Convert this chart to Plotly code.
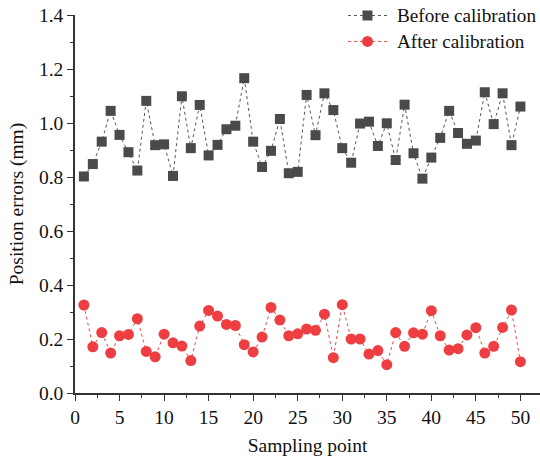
import plotly.graph_objects as go

points = list(range(1, 51))
before = [0.802, 0.848, 0.931, 1.045, 0.956, 0.892, 0.824, 1.082, 0.918, 0.921,
          0.804, 1.099, 0.907, 1.067, 0.880, 0.919, 0.977, 0.990, 1.166, 0.931,
          0.837, 0.897, 1.015, 0.814, 0.819, 1.104, 0.955, 1.110, 1.048, 0.907,
          0.853, 0.998, 1.005, 0.915, 0.999, 0.863, 1.068, 0.888, 0.794, 0.872,
          0.945, 1.045, 0.963, 0.923, 0.935, 1.114, 0.996, 1.110, 0.918, 1.061]
after = [0.326, 0.171, 0.224, 0.148, 0.212, 0.217, 0.275, 0.154, 0.134, 0.218,
         0.186, 0.174, 0.120, 0.248, 0.306, 0.285, 0.254, 0.250, 0.179, 0.152,
         0.207, 0.317, 0.270, 0.212, 0.219, 0.237, 0.232, 0.292, 0.131, 0.327,
         0.200, 0.200, 0.144, 0.157, 0.105, 0.224, 0.173, 0.223, 0.218, 0.305,
         0.212, 0.159, 0.164, 0.215, 0.242, 0.148, 0.173, 0.243, 0.307, 0.116]
series_names = ["Before calibration", "After calibration"]

font = "Liberation Serif, Times New Roman, serif"
fsize = 19.5
gray_line, gray_mark = "#555555", "#4a4a4a"
red_line, red_mark = "#f04848", "#ee3e42"

fig = go.Figure()
fig.add_trace(go.Scatter(
    x=points, y=before, mode="lines+markers", name=series_names[0],
    line=dict(color=gray_line, width=1, dash="dot"),
    marker=dict(symbol="square", size=10, color=gray_mark),
))
fig.add_trace(go.Scatter(
    x=points, y=after, mode="lines+markers", name=series_names[1],
    line=dict(color=red_line, width=1, dash="dot"),
    marker=dict(symbol="circle", size=11, color=red_mark),
))

# Manual legend (paper coordinates)
leg_rows = [(0.9987, gray_line, gray_mark, "rect", 5), (0.930, red_line, red_mark, "circle", 5.5)]
lx0, lx1, lxc, ltx = 0.587, 0.671, 0.629, 0.6900
for (ly, lc, mc, shp, r), name in zip(leg_rows, series_names):
    fig.add_shape(type="line", xref="paper", yref="paper", x0=lx0, x1=lx1, y0=ly, y1=ly,
                  line=dict(color=lc, width=1, dash="dot"))
    fig.add_shape(type=shp, xref="paper", yref="paper", xsizemode="pixel", ysizemode="pixel",
                  xanchor=lxc, yanchor=ly, x0=-r, x1=r, y0=-r, y1=r,
                  fillcolor=mc, line=dict(width=0))
    fig.add_annotation(x=ltx, y=ly, xref="paper", yref="paper", text=name, showarrow=False,
                       xanchor="left", yanchor="middle", borderpad=0,
                       font=dict(family=font, size=19.2, color="#111111"))

axis_common = dict(
    showline=True, linecolor="#333333", linewidth=1.5,
    ticks="outside", ticklen=6, tickwidth=1.2, tickcolor="#333333",
    showgrid=False, zeroline=False, mirror=False, automargin=False,
    tickfont=dict(family=font, size=fsize, color="#111111"),
)

fig.update_layout(
    width=540, height=460,
    margin=dict(l=75, r=0, t=15, b=67),
    plot_bgcolor="white", paper_bgcolor="white",
    font=dict(family=font, size=fsize, color="#111111"),
    showlegend=False,
    xaxis=dict(range=[0, 52.2], tickvals=[0, 5, 10, 15, 20, 25, 30, 35, 40, 45, 50],
               minor=dict(ticks="outside", ticklen=3, tickwidth=1, tickcolor="#333333", dtick=2.5, tick0=0),
               title=dict(text="Sampling point", font=dict(family=font, size=fsize), standoff=11),
               **axis_common),
    yaxis=dict(range=[0, 1.4001], tickvals=[0, 0.2, 0.4, 0.6, 0.8, 1.0, 1.2, 1.4], tickformat=".1f",
               minor=dict(ticks="outside", ticklen=3, tickwidth=1, tickcolor="#333333", dtick=0.1, tick0=0),
               title=dict(text="Position errors (mm)", font=dict(family=font, size=fsize), standoff=10),
               **axis_common),
)

# remove the browser's default 8px body margin so the figure fills the window exactly
fig.write_html("out.html", config={"displayModeBar": False},
               post_script="document.body.style.margin='0';")
